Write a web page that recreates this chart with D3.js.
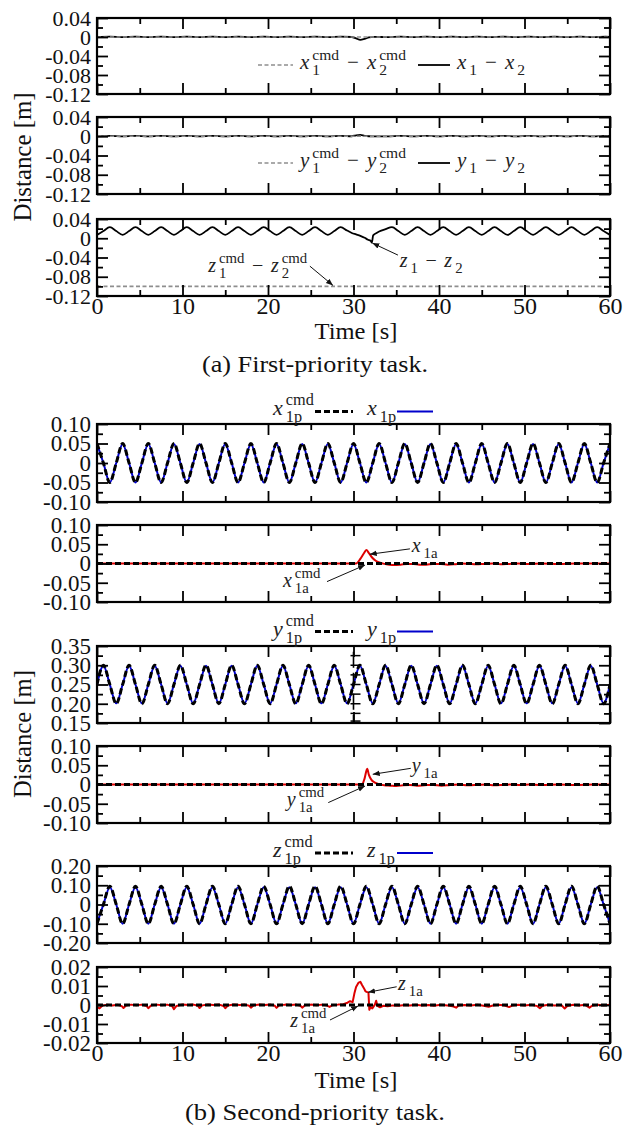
<!DOCTYPE html>
<html>
<head>
<meta charset="utf-8">
<script src="https://cdn.jsdelivr.net/npm/d3@7"></script>
<style>
body { margin: 0; background: #fff; }
</style>
</head>
<body>
<svg id="fig" width="623" height="1130"></svg>
<script>
// ---------- data ----------
var xTicks = [0, 10, 20, 30, 40, 50, 60];
var xTickLabels = ["0", "10", "20", "30", "40", "50", "60"];
var xMinor = [5, 15, 25, 35, 45, 55];

// (a) panels
var aTicks = [0.04, 0, -0.04, -0.08, -0.12];
var aTickLabels = ["0.04", "0", "-0.04", "-0.08", "-0.12"];
var aMinor = [0.02, -0.02, -0.06, -0.10];

var x12Cmd = [[0, 0], [60, 0]];
var y12Cmd = [[0, 0], [60, 0]];
var z12Cmd = [[0, -0.1], [60, -0.1]];

var x12 = [[0,0],[1.5,0.0008],[3,-0.0004],[4.5,0.0008],[6,-0.0004],[7.5,0.0008],[9,-0.0004],[10.5,0.0008],
  [12,-0.0004],[13.5,0.0008],[15,-0.0004],[16.5,0.0008],[18,-0.0004],[19.5,0.0008],[21,-0.0004],[22.5,0.0008],
  [24,-0.0004],[25.5,0.0008],[27,-0.0004],[28.5,0.0008],[29.8,0],[30.3,-0.003],[30.8,-0.006],[31.3,-0.004],
  [31.8,-0.001],[32.5,0.0004],[34,-0.0004],[35.5,0.0008],[37,-0.0004],[38.5,0.0008],[40,-0.0004],[41.5,0.0008],
  [43,-0.0004],[44.5,0.0008],[46,-0.0004],[47.5,0.0008],[49,-0.0004],[50.5,0.0008],[52,-0.0004],[53.5,0.0008],
  [55,-0.0004],[56.5,0.0008],[58,-0.0004],[59.5,0.0008],[60,0]];

var y12 = [[0,-0.0004],[1.5,0.0008],[3,-0.0004],[4.5,0.0008],[6,-0.0004],[7.5,0.0008],[9,-0.0004],[10.5,0.0008],
  [12,-0.0004],[13.5,0.0008],[15,-0.0004],[16.5,0.0008],[18,-0.0004],[19.5,0.0008],[21,-0.0004],[22.5,0.0008],
  [24,-0.0004],[25.5,0.0008],[27,-0.0004],[28.5,0.0008],[29.8,0],[30.3,0.002],[30.8,0.003],[31.3,0.001],
  [31.8,0],[32.5,-0.0004],[34,-0.0004],[35.5,0.0008],[37,-0.0004],[38.5,0.0008],[40,-0.0004],[41.5,0.0008],
  [43,-0.0004],[44.5,0.0008],[46,-0.0004],[47.5,0.0008],[49,-0.0004],[50.5,0.0008],[52,-0.0004],[53.5,0.0008],
  [55,-0.0004],[56.5,0.0008],[58,-0.0004],[59.5,0.0008],[60,0]];

var z12 = [[0,0.007],[0.75,0.015],[1.5,0.023],[2.25,0.015],[3,0.007],[3.75,0.015],[4.5,0.023],[5.25,0.015],
  [6,0.007],[6.75,0.015],[7.5,0.023],[8.25,0.015],[9,0.007],[9.75,0.015],[10.5,0.023],[11.25,0.015],
  [12,0.007],[12.75,0.015],[13.5,0.023],[14.25,0.015],[15,0.007],[15.75,0.015],[16.5,0.023],[17.25,0.015],
  [18,0.007],[18.75,0.015],[19.5,0.023],[20.25,0.015],[21,0.007],[21.75,0.015],[22.5,0.023],[23.25,0.015],
  [24,0.007],[24.75,0.015],[25.5,0.023],[26.25,0.015],[27,0.007],[27.75,0.015],[28.5,0.023],
  [29.25,0.016],[29.8,0.011],[30.3,0.008],[30.8,0.005],[31.3,0.001],[31.7,-0.003],[32.0,-0.005],[32.15,-0.009],
  [32.3,0.006],[32.7,0.011],[33.0,0.014],[33.75,0.019],
  [34.5,0.023],[35.25,0.015],[36,0.007],[36.75,0.015],[37.5,0.023],[38.25,0.015],[39,0.007],[39.75,0.015],
  [40.5,0.023],[41.25,0.015],[42,0.007],[42.75,0.015],[43.5,0.023],[44.25,0.015],[45,0.007],[45.75,0.015],
  [46.5,0.023],[47.25,0.015],[48,0.007],[48.75,0.015],[49.5,0.023],[50.25,0.015],[51,0.007],[51.75,0.015],
  [52.5,0.023],[53.25,0.015],[54,0.007],[54.75,0.015],[55.5,0.023],[56.25,0.015],[57,0.007],[57.75,0.015],
  [58.5,0.023],[59.25,0.015],[60,0.007]];

// (b) panels: periodic tracks sampled every 0.75 s
var tGrid = d3.range(0, 60.75, 0.75);

var x1pCmd = [0.05,0,-0.05,0, 0.05,0,-0.05,0, 0.05,0,-0.05,0, 0.05,0,-0.05,0, 0.05,0,-0.05,0,
  0.05,0,-0.05,0, 0.05,0,-0.05,0, 0.05,0,-0.05,0, 0.05,0,-0.05,0, 0.05,0,-0.05,0,
  0.05,0,-0.05,0, 0.05,0,-0.05,0, 0.05,0,-0.05,0, 0.05,0,-0.05,0, 0.05,0,-0.05,0,
  0.05,0,-0.05,0, 0.05,0,-0.05,0, 0.05,0,-0.05,0, 0.05,0,-0.05,0, 0.05,0,-0.05,0, 0.05];
var x1p = [0.049,0,-0.05,0, 0.049,0,-0.05,0, 0.049,0,-0.05,0, 0.049,0,-0.05,0, 0.049,0,-0.05,0,
  0.049,0,-0.05,0, 0.049,0,-0.05,0, 0.049,0,-0.05,0, 0.049,0,-0.05,0, 0.049,0,-0.05,0,
  0.049,0,-0.05,0, 0.049,0,-0.05,0, 0.049,0,-0.05,0, 0.049,0,-0.05,0, 0.049,0,-0.05,0,
  0.049,0,-0.05,0, 0.049,0,-0.05,0, 0.049,0,-0.05,0, 0.049,0,-0.05,0, 0.049,0,-0.05,0, 0.049];

var y1pCmd = [0.25,0.30,0.25,0.20, 0.25,0.30,0.25,0.20, 0.25,0.30,0.25,0.20, 0.25,0.30,0.25,0.20, 0.25,0.30,0.25,0.20,
  0.25,0.30,0.25,0.20, 0.25,0.30,0.25,0.20, 0.25,0.30,0.25,0.20, 0.25,0.30,0.25,0.20, 0.25,0.30,0.25,0.20,
  0.25,0.30,0.25,0.20, 0.25,0.30,0.25,0.20, 0.25,0.30,0.25,0.20, 0.25,0.30,0.25,0.20, 0.25,0.30,0.25,0.20,
  0.25,0.30,0.25,0.20, 0.25,0.30,0.25,0.20, 0.25,0.30,0.25,0.20, 0.25,0.30,0.25,0.20, 0.25,0.30,0.25,0.20, 0.25];
var y1p = [0.25,0.299,0.25,0.201, 0.25,0.299,0.25,0.201, 0.25,0.299,0.25,0.201, 0.25,0.299,0.25,0.201, 0.25,0.299,0.25,0.201,
  0.25,0.299,0.25,0.201, 0.25,0.299,0.25,0.201, 0.25,0.299,0.25,0.201, 0.25,0.299,0.25,0.201, 0.25,0.299,0.25,0.201,
  0.25,0.299,0.25,0.201, 0.25,0.299,0.25,0.201, 0.25,0.299,0.25,0.201, 0.25,0.299,0.25,0.201, 0.25,0.299,0.25,0.201,
  0.25,0.299,0.25,0.201, 0.25,0.299,0.25,0.201, 0.25,0.299,0.25,0.201, 0.25,0.299,0.25,0.201, 0.25,0.299,0.25,0.201, 0.25];

var z1pCmd = [-0.10,0,0.095,0, -0.10,0,0.095,0, -0.10,0,0.095,0, -0.10,0,0.095,0, -0.10,0,0.095,0,
  -0.10,0,0.095,0, -0.10,0,0.095,0, -0.10,0,0.095,0, -0.10,0,0.095,0, -0.10,0,0.095,0,
  -0.10,0,0.095,0, -0.10,0,0.095,0, -0.10,0,0.095,0, -0.10,0,0.095,0, -0.10,0,0.095,0,
  -0.10,0,0.095,0, -0.10,0,0.095,0, -0.10,0,0.095,0, -0.10,0,0.095,0, -0.10,0,0.095,0, -0.10];
var z1p = [-0.10,0,0.09,0, -0.10,0,0.09,0, -0.10,0,0.09,0, -0.10,0,0.09,0, -0.10,0,0.09,0,
  -0.10,0,0.09,0, -0.10,0,0.09,0, -0.10,0,0.09,0, -0.10,0,0.09,0, -0.10,0,0.09,0,
  -0.10,0,0.09,0, -0.10,0,0.09,0, -0.10,0,0.09,0, -0.10,0,0.09,0, -0.10,0,0.09,0,
  -0.10,0,0.09,0, -0.10,0,0.09,0, -0.10,0,0.09,0, -0.10,0,0.09,0, -0.10,0,0.09,0, -0.10];

var aCmdZero = [[0, 0], [60, 0]];

var x1a = [[0,0],[30.3,0],[30.8,0.012],[31.2,0.026],[31.5,0.035],[31.8,0.027],[32.2,0.015],[32.6,0.007],
  [33.1,0.002],[33.6,-0.001],[34.2,-0.003],[34.8,-0.004],[35.5,-0.003],[36.3,-0.001],[37.0,-0.001],[37.7,-0.003],
  [38.5,-0.003],[39.3,-0.001],[40.2,-0.001],[41.0,-0.003],[41.8,-0.002],[42.7,0],[43.5,-0.001],[44.4,-0.002],
  [45.3,-0.001],[46.3,0],[47.2,-0.002],[48.2,-0.001],[49.3,0],[50.3,-0.001],[52,0],[54,-0.001],[56,0],[58,0],[60,0]];

var y1a = [[0,0],[31.0,0],[31.3,0.016],[31.6,0.041],[31.8,0.025],[32.1,0.012],[32.5,0.005],[33.0,0.001],
  [33.6,-0.002],[34.3,-0.003],[35.0,-0.004],[35.8,-0.002],[36.6,-0.001],[37.4,-0.003],[38.3,-0.002],[39.3,-0.001],
  [40.3,-0.003],[41.3,-0.001],[42.3,0],[43.4,-0.002],[44.5,-0.001],[45.5,0],[46.5,-0.002],[47.5,-0.001],
  [48.5,0],[49.5,-0.001],[50.5,0],[52,-0.001],[54,0],[56,-0.001],[58,0],[60,0]];

var z1a = [[0,-0.0012],[0.3,-0.0018],[0.6,-0.0004],[1.2,0.0002],[1.8,-0.0003],[2.4,0.0001],[2.9,-0.0006],[3.1,-0.0016],
  [3.4,-0.0003],[4.0,0.0002],[4.6,-0.0002],[5.2,0.0002],[5.8,-0.0005],[6.0,-0.0017],[6.3,-0.0003],[7.0,0.0002],
  [7.6,-0.0001],[8.2,0.0002],[8.8,-0.0006],[9.0,-0.0022],[9.3,-0.0005],[10.0,0.0003],[10.7,0],[11.3,0.0002],
  [11.8,-0.0004],[12.0,-0.0016],[12.3,-0.0002],[13.0,0.0003],[13.6,0],[14.3,0.0002],[14.8,-0.0005],[15.0,-0.0017],
  [15.3,-0.0003],[16.0,0.0003],[16.7,0],[17.3,0.0002],[17.8,-0.0004],[18.0,-0.0014],[18.3,-0.0002],[19.0,0.0003],
  [19.6,0],[20.3,0.0002],[20.8,-0.0004],[21.0,-0.0015],[21.3,-0.0002],[22.0,0.0002],[22.7,0],[23.3,0.0002],
  [23.8,-0.0004],[24.0,-0.0014],[24.3,-0.0002],[25.0,0.0002],[25.7,-0.0001],[26.3,0.0002],[26.9,-0.0003],[27.2,-0.001],
  [27.5,-0.0002],[28.2,0.0002],[28.8,0.0004],[29.3,0.0012],[29.6,0.002],[29.9,0.0015],[30.1,0.006],[30.3,0.0095],
  [30.6,0.0118],[30.8,0.0122],[31.0,0.0105],[31.2,0.009],[31.4,0.0072],[31.6,0.0068],[31.75,0.0065],[31.85,-0.0025],
  [32.0,-0.001],[32.2,-0.0018],[32.5,0.0002],[32.65,0.0022],[32.8,-0.0005],[33.1,-0.0012],[33.5,-0.0004],[34.0,-0.0006],
  [34.6,-0.0002],[35.3,-0.0004],[36.0,0],[36.6,-0.0003],[37.3,0.0001],[38.0,-0.0002],[38.8,0],[39.4,-0.0004],
  [40.2,0.0001],[41.0,-0.0002],[41.7,-0.0008],[42.0,-0.0014],[42.3,-0.0003],[43.0,0],[43.7,-0.0002],[44.5,0.0001],
  [45.2,-0.0004],[45.8,-0.0009],[46.3,-0.0003],[47.0,0.0001],[47.7,-0.0003],[48.2,-0.0011],[48.6,-0.0002],[49.3,0.0001],
  [50.0,-0.0002],[50.8,0.0001],[51.5,-0.0006],[51.8,-0.0017],[52.1,-0.0004],[52.8,0.0001],[53.5,-0.0002],[54.3,0],
  [54.7,-0.0018],[55.0,-0.0005],[55.7,0.0001],[56.4,-0.0002],[57.1,0.0001],[57.6,-0.0014],[57.9,-0.0004],[58.6,0.0001],
  [59.2,-0.0002],[60,0.0002]];

// stray axis fragment left in the y_1p panel at t = 30
var strayTicks = [0.325, 0.30, 0.275, 0.25, 0.225, 0.20, 0.175, 0.155];

// ---------- drawing ----------
var FONT = "'Liberation Serif', 'Tinos', 'Times New Roman', 'DejaVu Serif', serif";
var svg = d3.select("#fig").style("font-family", FONT);
var defs = svg.append("defs");
defs.append("marker").attr("id", "arr").attr("viewBox", "0 0 10 10")
  .attr("refX", 10).attr("refY", 5).attr("markerWidth", 7).attr("markerHeight", 7)
  .attr("orient", "auto")
  .append("path").attr("d", "M0,1 L10,5 L0,9 z").attr("fill", "#111");

var x = d3.scaleLinear().domain([0, 60]).range([97, 610]);

var grid = function(vals) { return tGrid.map(function(t, i) { return [t, vals[i]]; }); };

var st = {
  grayDash: { color: "#8e8e8e", w: 1.7, dash: "4,2.5" },
  black: { color: "#000", w: 1.8 },
  blackDash: { color: "#000", w: 3, dash: "6,3" },
  blue: { color: "#0000cc", w: 2 },
  red: { color: "#dd0000", w: 2 }
};
var mk = function(style, data, curve) { return Object.assign({ data: data, curve: curve }, style); };

function axis(g, ax, tx, ty, fs) {
  var a = g.append("g").attr("transform", "translate(" + tx + "," + ty + ")").call(ax);
  a.select(".domain").remove();
  a.selectAll("line").attr("stroke", "#000").attr("stroke-width", 1.8);
  if (fs) a.selectAll("text").attr("font-size", fs);
  return a;
}

function drawPanel(p) {
  var y = d3.scaleLinear().domain(p.domain).range([p.bottom, p.top]);
  var g = svg.append("g");
  var cid = "clip" + p.id;
  defs.append("clipPath").attr("id", cid).append("rect")
    .attr("x", x.range()[0]).attr("y", p.top)
    .attr("width", x.range()[1] - x.range()[0]).attr("height", p.bottom - p.top);
  var plot = g.append("g").attr("clip-path", "url(#" + cid + ")");
  p.series.forEach(function(s) {
    plot.append("path").datum(s.data)
      .attr("fill", "none").attr("stroke", s.color).attr("stroke-width", s.w)
      .attr("stroke-dasharray", s.dash || null).attr("stroke-linejoin", "round")
      .attr("d", d3.line().x(function(d) { return x(d[0]); }).y(function(d) { return y(d[1]); })
        .curve(s.curve || d3.curveLinear));
  });
  if (p.extra) p.extra(plot, y);

  var L = x.range()[0], R = x.range()[1];
  axis(g, d3.axisLeft(y).tickValues(p.ticks).tickSize(-11).tickPadding(6)
    .tickFormat(function(d, i) { return p.labels[i]; }), L, 0, p.fs);
  axis(g, d3.axisLeft(y).tickValues(p.minor).tickSize(-6).tickFormat(""), L, 0);
  axis(g, d3.axisRight(y).tickValues(p.ticks).tickSize(-11).tickFormat(""), R, 0);
  axis(g, d3.axisRight(y).tickValues(p.minor).tickSize(-6).tickFormat(""), R, 0);
  axis(g, d3.axisTop(x).tickValues(xTicks).tickSize(-11).tickFormat(""), 0, p.top);
  axis(g, d3.axisTop(x).tickValues(xMinor).tickSize(-6).tickFormat(""), 0, p.top);
  axis(g, d3.axisBottom(x).tickValues(xTicks).tickSize(-11).tickPadding(1)
    .tickFormat(function(d, i) { return p.xLabels ? xTickLabels[i] : ""; }), 0, p.bottom, 24);
  axis(g, d3.axisBottom(x).tickValues(xMinor).tickSize(-6).tickFormat(""), 0, p.bottom);

  g.append("rect").attr("x", L).attr("y", p.top).attr("width", R - L).attr("height", p.bottom - p.top)
    .attr("fill", "none").attr("stroke", "#000").attr("stroke-width", 2.2);
  return y;
}

// math-ish label: parts like {b:"x", sub:"1", sup:"cmd"} or {op:"−"}
function math(g, x0, y0, parts, fs) {
  var cx = x0;
  var txt = function(xx, yy, size, s, italic) {
    return g.append("text").attr("x", xx).attr("y", yy).attr("font-size", size)
      .style("font-family", FONT).attr("font-style", italic ? "italic" : null).attr("fill", "#222").text(s);
  };
  parts.forEach(function(p) {
    if (p.op) {
      cx += fs * 0.38;
      var o = txt(cx, y0, fs, p.op);
      cx += o.node().getComputedTextLength() + fs * 0.38;
      return;
    }
    var b = txt(cx, y0, fs, p.b, true);
    cx += b.node().getComputedTextLength() + 3;
    var w = 0;
    if (p.sup) w = Math.max(w, txt(cx, y0 - fs * 0.45, fs * 0.74, p.sup).node().getComputedTextLength());
    if (p.sub) w = Math.max(w, txt(cx, y0 + fs * 0.3, fs * 0.74, p.sub).node().getComputedTextLength());
    cx += w;
  });
  return cx;
}

function arrow(y, from, to) {
  svg.append("line").attr("x1", x(from[0])).attr("y1", y(from[1]))
    .attr("x2", x(to[0])).attr("y2", y(to[1]))
    .attr("stroke", "#111").attr("stroke-width", 1).attr("marker-end", "url(#arr)");
}

function sample(yPix, x1, x2, style) {
  svg.append("line").attr("x1", x1).attr("x2", x2).attr("y1", yPix).attr("y2", yPix)
    .attr("stroke", style.color).attr("stroke-width", style.w).attr("stroke-dasharray", style.dash || null);
}

// centred text; an optional width stretches it like the (slightly widened) original figure
function label(xx, yy, size, s, rot, width) {
  var t = svg.append("text").attr("transform", "translate(" + xx + "," + yy + ")" + (rot ? " rotate(-90)" : ""))
    .attr("text-anchor", "middle").attr("font-size", size).style("font-family", FONT).attr("fill", "#111").text(s);
  if (width) t.attr("textLength", width).attr("lengthAdjust", "spacingAndGlyphs");
  return t;
}

// ---- (a) First-priority task ----
var aBase = { domain: [-0.12, 0.04], ticks: aTicks, labels: aTickLabels, minor: aMinor, fs: 22 };
var yP1 = drawPanel(Object.assign({ id: 1, top: 18, bottom: 94,
  series: [mk(st.black, x12, d3.curveMonotoneX), mk(st.grayDash, x12Cmd)] }, aBase));
var yP2 = drawPanel(Object.assign({ id: 2, top: 117, bottom: 194,
  series: [mk(st.black, y12, d3.curveMonotoneX), mk(st.grayDash, y12Cmd)] }, aBase));
var yP3 = drawPanel(Object.assign({ id: 3, top: 219, bottom: 296, xLabels: true,
  series: [mk(st.black, z12, d3.curveMonotoneX), mk(st.grayDash, z12Cmd)] }, aBase));

var leg = svg.append("g");
sample(65, 258, 293, st.grayDash);
math(leg, 300, 69, [{ b: "x", sub: "1", sup: "cmd" }, { op: "−" }, { b: "x", sub: "2", sup: "cmd" }], 21);
sample(65, 418, 450, st.black);
math(leg, 457, 69, [{ b: "x", sub: "1" }, { op: "−" }, { b: "x", sub: "2" }], 21);
sample(163, 258, 293, st.grayDash);
math(leg, 300, 167, [{ b: "y", sub: "1", sup: "cmd" }, { op: "−" }, { b: "y", sub: "2", sup: "cmd" }], 21);
sample(163, 418, 450, st.black);
math(leg, 457, 167, [{ b: "y", sub: "1" }, { op: "−" }, { b: "y", sub: "2" }], 21);

// annotations in panel 3 (data coordinates)
math(leg, x(13.0), yP3(-0.070), [{ b: "z", sub: "1", sup: "cmd" }, { op: "−" }, { b: "z", sub: "2", sup: "cmd" }], 20);
arrow(yP3, [24.9, -0.058], [27.6, -0.098]);
math(leg, x(35.4), yP3(-0.060), [{ b: "z", sub: "1" }, { op: "−" }, { b: "z", sub: "2" }], 20);
arrow(yP3, [35.2, -0.035], [32.2, -0.010]);

label(356, 339, 24, "Time [s]", false, 83);
label(315, 372, 23, "(a) First-priority task.", false, 226);
label(31, 157, 25, "Distance [m]", true, 129);

// ---- (b) Second-priority task ----
var b10 = { domain: [-0.1, 0.1], ticks: [0.1, 0.05, 0, -0.05, -0.1],
  labels: ["0.10", "0.05", "0", "-0.05", "-0.10"], minor: [0.075, 0.025, -0.025, -0.075], fs: 23 };

var yP4 = drawPanel(Object.assign({ id: 4, top: 424, bottom: 502,
  series: [mk(st.blue, grid(x1p), d3.curveMonotoneX), mk(st.blackDash, grid(x1pCmd), d3.curveMonotoneX)] }, b10));
var yP5 = drawPanel(Object.assign({ id: 5, top: 525, bottom: 602,
  series: [mk(st.red, x1a, d3.curveMonotoneX), mk(st.blackDash, aCmdZero)] }, b10));
var yP6 = drawPanel({ id: 6, top: 646, bottom: 723, domain: [0.15, 0.35],
  ticks: [0.35, 0.30, 0.25, 0.20, 0.15], labels: ["0.35", "0.30", "0.25", "0.20", "0.15"],
  minor: [0.325, 0.275, 0.225, 0.175], fs: 23,
  series: [mk(st.blue, grid(y1p), d3.curveMonotoneX), mk(st.blackDash, grid(y1pCmd), d3.curveMonotoneX)],
  extra: function(plot, y) {
    plot.append("line").attr("x1", x(30)).attr("x2", x(30)).attr("y1", y(0.335)).attr("y2", y(0.15))
      .attr("stroke", "#000").attr("stroke-width", 1.6).attr("stroke-dasharray", "16,5");
    plot.selectAll(".stray").data(strayTicks).enter().append("line")
      .attr("x1", x(30) - 3).attr("x2", x(30) + 7)
      .attr("y1", function(d) { return y(d); }).attr("y2", function(d) { return y(d); })
      .attr("stroke", "#000").attr("stroke-width", 1.5);
  } });
var yP7 = drawPanel(Object.assign({ id: 7, top: 746, bottom: 823,
  series: [mk(st.red, y1a, d3.curveMonotoneX), mk(st.blackDash, aCmdZero)] }, b10));
var yP8 = drawPanel({ id: 8, top: 866, bottom: 943, domain: [-0.2, 0.2],
  ticks: [0.2, 0.1, 0, -0.1, -0.2], labels: ["0.20", "0.10", "0", "-0.10", "-0.20"],
  minor: [0.15, 0.05, -0.05, -0.15], fs: 23,
  series: [mk(st.blue, grid(z1p), d3.curveMonotoneX), mk(st.blackDash, grid(z1pCmd), d3.curveMonotoneX)] });
var yP9 = drawPanel({ id: 9, top: 967, bottom: 1043, domain: [-0.02, 0.02], xLabels: true,
  ticks: [0.02, 0.01, 0, -0.01, -0.02], labels: ["0.02", "0.01", "0", "-0.01", "-0.02"],
  minor: [0.015, 0.005, -0.005, -0.015], fs: 23,
  series: [mk(st.red, z1a), mk(st.blackDash, aCmdZero)] });

// legends above the p-panels
var legB = svg.append("g");
[["x", 415, 411.5], ["y", 636, 631.5], ["z", 857, 853]].forEach(function(r) {
  math(legB, 273, r[1], [{ b: r[0], sub: "1p", sup: "cmd" }], 22);
  sample(r[2], 315, 353, st.blackDash);
  math(legB, 367, r[1], [{ b: r[0], sub: "1p" }], 22);
  sample(r[2], 397, 433, st.blue);
});

// annotations in the a-panels (data coordinates)
math(legB, x(36.8), yP5(0.030), [{ b: "x", sub: "1a" }], 20);
arrow(yP5, [36.6, 0.038], [31.9, 0.024]);
math(legB, x(21.75), yP5(-0.061), [{ b: "x", sub: "1a", sup: "cmd" }], 20);
arrow(yP5, [26.9, -0.047], [31.35, -0.004]);

math(legB, x(36.8), yP7(0.0325), [{ b: "y", sub: "1a" }], 20);
arrow(yP7, [36.7, 0.042], [32.25, 0.0265]);
math(legB, x(22.2), yP7(-0.0558), [{ b: "y", sub: "1a", sup: "cmd" }], 20);
arrow(yP7, [27.05, -0.047], [31.35, -0.004]);

math(legB, x(35.2), yP9(0.0079), [{ b: "z", sub: "1a" }], 20);
arrow(yP9, [35.05, 0.0096], [31.7, 0.0067]);
math(legB, x(22.6), yP9(-0.0116), [{ b: "z", sub: "1a", sup: "cmd" }], 20);
arrow(yP9, [27.25, -0.0079], [30.55, -0.0005]);

label(356, 1088, 24, "Time [s]", false, 83);
label(315, 1120, 23, "(b) Second-priority task.", false, 260);
label(31, 734, 25, "Distance [m]", true, 128);

// every axis text in the serif face too (axis groups carry their own font attribute)
svg.selectAll("g.tick text").style("font-family", FONT).style("fill", "#111");
</script>
</body>
</html>
